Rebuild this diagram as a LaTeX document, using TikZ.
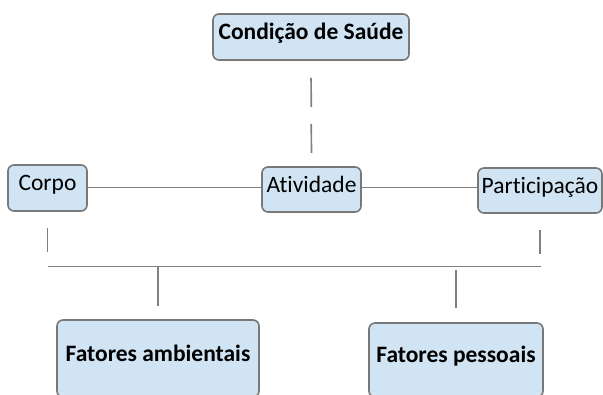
\documentclass[tikz,border=0pt]{standalone}
\usepackage{fontspec}
\setmainfont{Carlito}[Ligatures={NoCommon,TeX}]
\definecolor{boxfill}{RGB}{208,228,243}
\definecolor{boxline}{RGB}{120,120,120}
\definecolor{conline}{RGB}{128,128,128}
\begin{document}
\begin{tikzpicture}[x=1pt,y=-1pt,
  box/.style={draw=boxline,line width=1.6pt,fill=boxfill,rounded corners=6pt,
    inner sep=0pt,align=center,text height=14pt,text depth=9pt,
    font=\fontsize{23.5}{28}\selectfont},
  boldbox/.style={box,font=\fontsize{23.5}{28}\selectfont\bfseries},
  con/.style={draw=conline,line width=1.7pt}]
\useasboundingbox (0,0) rectangle (603,394);
\begin{scope}
\clip (0,0) rectangle (603,394);
\node[boldbox,minimum width=196pt,minimum height=46pt] (cond) at (311,37) {Condição de Saúde};
\node[box,minimum width=79pt,minimum height=46pt] (corpo) at (47.5,188) {Corpo};
\node[box,minimum width=99pt,minimum height=45pt] (ativ) at (311.5,189.5) {Atividade};
\node[box,minimum width=124pt,minimum height=45pt] (part) at (540,190.5) {Participação};
\node[boldbox,minimum width=202pt,minimum height=77pt] (amb) at (158,358.5) {Fatores ambientais};
\node[boldbox,minimum width=174pt,minimum height=74pt] (pess) at (456,360) {Fatores pessoais};
\coordinate (hl) at (0,187.5);
\coordinate (busL) at (48,266.5);
\coordinate (busR) at (541,266.5);
\draw[con,dash pattern=on 29pt off 17pt,dash phase=29pt] (cond.south) -- (ativ.north);
\draw[con] (corpo.east |- hl) -- (ativ.west |- hl);
\draw[con] (ativ.east |- hl) -- (part.west |- hl);
\draw[con,dash pattern=on 24pt off 16pt,dash phase=24pt] (corpo.south) -- (corpo.south |- busL);
\draw[con,dash pattern=on 24pt off 16pt,dash phase=24pt] (part.south) -- (part.south |- busR);
\draw[con] (busL) -- (busR);
\draw[con,dash pattern=on 39pt off 40pt] (amb.north |- busL) -- (amb.north);
\draw[con,dash pattern=on 38pt off 40pt,dash phase=-3pt] (pess.north |- busR) -- (pess.north);
\end{scope}
\end{tikzpicture}
\end{document}
